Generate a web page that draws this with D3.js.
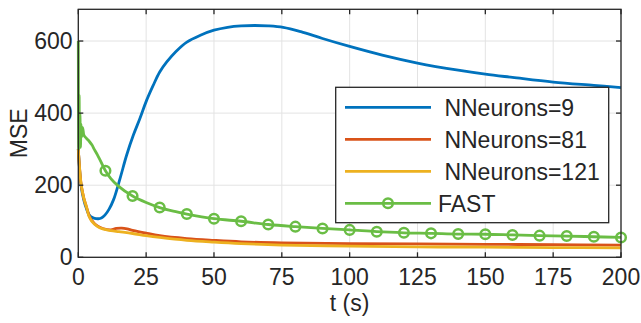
<!DOCTYPE html>
<html>
<head>
<meta charset="utf-8">
<script src="https://cdn.jsdelivr.net/npm/d3@7/dist/d3.min.js"></script>
<style>
  html, body { margin: 0; padding: 0; background: #fff; }
  svg { display: block; }
  text { font-family: "Liberation Sans", Arial, Helvetica, sans-serif; fill: #262626; }
</style>
</head>
<body>
<svg id="chart" width="641" height="323"></svg>
<script>
// --- data ---
const xTicks = [0, 25, 50, 75, 100, 125, 150, 175, 200]
const yTicks = [0, 200, 400, 600]

const labels = [' NNeurons=9', ' NNeurons=81', ' NNeurons=121', 'FAST']
const colors = ['#0072BD', '#D95319', '#EDB120', '#6abd45']

const tBlue = [0, 1, 2, 3, 4, 5, 6, 7.4, 8.5, 9.8, 11.3, 13, 15.4, 17.8, 20.3, 22.7, 25.2, 27.6, 30, 32.6, 36, 40, 45, 50, 55, 60, 65, 70, 75.5, 82, 90, 100, 112, 125, 140, 150, 160, 175, 190, 200]
const nn9 = [300, 200, 160, 135, 118, 111, 108, 107, 109, 117, 133, 160, 219, 283, 339, 385, 436, 477, 514, 542, 571, 597, 616, 630, 638, 642, 643, 642, 638, 626, 607, 585, 561, 539, 519, 508, 499, 486, 477, 471]

const tRed = [0, 1, 2, 3, 4, 5, 7, 9, 12, 14, 16, 18, 20, 25, 30, 40, 50, 60, 75, 100, 125, 150, 175, 200]
const nn81 = [300, 205, 165, 140, 115, 102, 87, 80, 76, 80, 81, 79, 75, 67, 60, 52, 47, 43, 40, 38, 37, 36, 35, 34]

const tYellow = [0, 1, 2, 3, 4, 5, 7, 9, 12, 15, 20, 25, 30, 40, 50, 60, 75, 100, 125, 150, 175, 200]
const nn121 = [300, 205, 165, 140, 113, 100, 86, 79, 74, 71, 66, 60, 55, 47, 42, 38, 34, 31, 29, 28, 27, 26]

const tFast = [0, 0.15, 0.3, 0.45, 0.6, 0.8, 1, 1.3, 1.6, 2, 3, 4, 5, 6, 7, 8, 10, 12, 15, 20, 25, 30, 35, 40, 50, 60, 70, 80, 90, 100, 110, 120, 130, 140, 150, 160, 170, 180, 190, 200]
const fast = [600, 300, 450, 310, 400, 305, 370, 335, 360, 340, 330, 322, 312, 298, 285, 270, 240, 218, 196, 170, 152, 138, 128, 120, 107, 100, 91, 85, 80, 76, 71, 68, 66.5, 64.5, 64, 62, 60, 59, 57, 55]

const series = [
    { t: tBlue, v: nn9 },
    { t: tRed, v: nn81 },
    { t: tYellow, v: nn121 },
    { t: tFast, v: fast, markers: true }
]

// --- layout ---
const svg = d3.select('#chart')
const m = { left: 78.3, right: 621, top: 9.3, bottom: 257.3 }

const x = d3.scaleLinear().domain([0, 200]).range([m.left, m.right])
const y = d3.scaleLinear().domain([0, 688]).range([m.bottom, m.top])

// grid
svg.append('g').selectAll('line')
    .data(xTicks)
    .join('line')
    .attr('x1', d => x(d)).attr('x2', d => x(d))
    .attr('y1', m.top).attr('y2', m.bottom)
    .attr('stroke', '#e3e3e3').attr('stroke-width', 1)

svg.append('g').selectAll('line')
    .data(yTicks)
    .join('line')
    .attr('x1', m.left).attr('x2', m.right)
    .attr('y1', d => y(d)).attr('y2', d => y(d))
    .attr('stroke', '#e3e3e3').attr('stroke-width', 1)

// lines: smooth curves for the NN runs, monotone for FAST (keeps the start spike tight)
const smooth = d3.line()
    .x(d => x(d[0]))
    .y(d => y(d[1]))
    .curve(d3.curveCatmullRom.alpha(0.5))

const mono = d3.line()
    .x(d => x(d[0]))
    .y(d => y(d[1]))
    .curve(d3.curveMonotoneX)

const plot = svg.append('g')

series.forEach((s, i) => {
    const pts = s.t.map((t, j) => [t, s.v[j]])
    plot.append('path')
        .datum(pts)
        .attr('d', s.markers ? mono : smooth)
        .attr('fill', 'none')
        .attr('stroke', colors[i])
        .attr('stroke-width', 2.8)
        .attr('stroke-linejoin', 'round')

    if (s.markers) {
        plot.append('g').selectAll('circle')
            .data(pts.filter(p => p[0] > 0 && p[0] % 10 === 0))
            .join('circle')
            .attr('cx', d => x(d[0]))
            .attr('cy', d => y(d[1]))
            .attr('r', 4.8)
            .attr('fill', 'none')
            .attr('stroke', colors[i])
            .attr('stroke-width', 2.5)
    }
})

// axes box + inward ticks (all four sides)
const axisColor = '#262626'
const tickLen = 5

const axes = svg.append('g')
axes.append('rect')
    .attr('x', m.left).attr('y', m.top)
    .attr('width', m.right - m.left).attr('height', m.bottom - m.top)
    .attr('fill', 'none').attr('stroke', axisColor).attr('stroke-width', 1.3)

axes.append('g').selectAll('line')
    .data(xTicks.flatMap(d => [[d, m.bottom, -tickLen], [d, m.top, tickLen]]))
    .join('line')
    .attr('x1', d => x(d[0])).attr('x2', d => x(d[0]))
    .attr('y1', d => d[1]).attr('y2', d => d[1] + d[2])
    .attr('stroke', axisColor).attr('stroke-width', 1.3)

axes.append('g').selectAll('line')
    .data(yTicks.flatMap(d => [[d, m.left, tickLen], [d, m.right, -tickLen]]))
    .join('line')
    .attr('y1', d => y(d[0])).attr('y2', d => y(d[0]))
    .attr('x1', d => d[1]).attr('x2', d => d[1] + d[2])
    .attr('stroke', axisColor).attr('stroke-width', 1.3)

// tick labels
svg.append('g').selectAll('text')
    .data(xTicks)
    .join('text')
    .attr('x', d => x(d))
    .attr('y', 285)
    .attr('text-anchor', 'middle')
    .attr('font-size', 23)
    .text(d => d)

svg.append('g').selectAll('text')
    .data(yTicks)
    .join('text')
    .attr('x', 72.5)
    .attr('y', d => y(d))
    .attr('dy', '0.35em')
    .attr('text-anchor', 'end')
    .attr('font-size', 23)
    .text(d => d)

// axis titles
svg.append('text')
    .attr('x', (m.left + m.right) / 2)
    .attr('y', 311)
    .attr('text-anchor', 'middle')
    .attr('font-size', 23)
    .text('t (s)')

svg.append('text')
    .attr('transform', `translate(26.5, ${(m.top + m.bottom) / 2}) rotate(-90)`)
    .attr('text-anchor', 'middle')
    .attr('font-size', 23)
    .text('MSE')

// legend
const legend = svg.append('g')
legend.append('rect')
    .attr('x', 335.7).attr('y', 87.3)
    .attr('width', 273).attr('height', 135.4)
    .attr('fill', '#fff').attr('stroke', axisColor).attr('stroke-width', 1.3)

const rows = legend.selectAll('g')
    .data(labels)
    .join('g')
    .attr('transform', (d, i) => `translate(0, ${107.3 + i * 32})`)

rows.append('line')
    .attr('x1', 345).attr('x2', 431)
    .attr('y1', 0).attr('y2', 0)
    .attr('stroke', (d, i) => colors[i])
    .attr('stroke-width', 2.8)

rows.filter((d, i) => series[i].markers)
    .append('circle')
    .attr('cx', 388).attr('cy', 0).attr('r', 4.8)
    .attr('fill', 'none')
    .attr('stroke', colors[3])
    .attr('stroke-width', 2.5)

rows.append('text')
    .attr('x', 438)
    .attr('dy', '0.36em')
    .attr('font-size', 23)
    .style('white-space', 'pre')
    .text(d => d)
</script>
</body>
</html>
